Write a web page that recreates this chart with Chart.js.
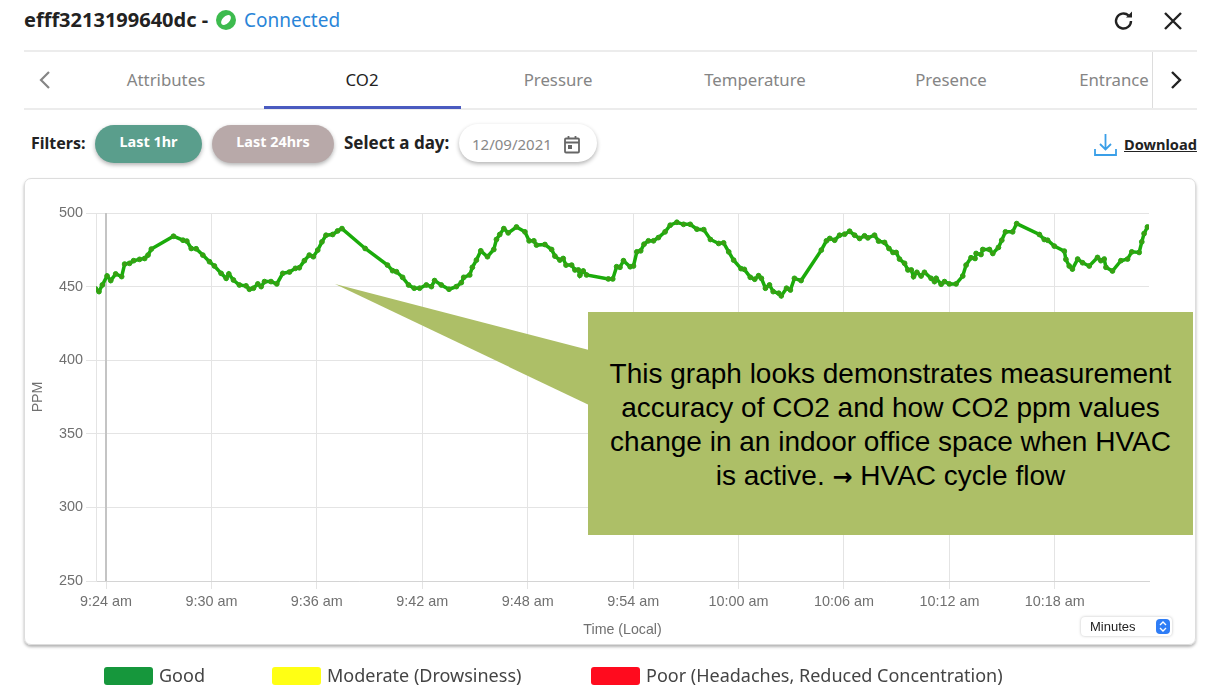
<!DOCTYPE html>
<html>
<head>
<meta charset="utf-8">
<title>CO2</title>
<script src="https://cdn.jsdelivr.net/npm/chart.js@4"></script>
<style>
    html, body { margin: 0; padding: 0; background: #fff; }
    body { position: relative; width: 1217px; height: 689px; overflow: hidden; font-family: "Noto Sans", sans-serif; color: #222; }
    .abs { position: absolute; white-space: nowrap; }
    .rule { position: absolute; left: 24px; width: 1173px; height: 2px; background: #ececec; }
    .tab { position: absolute; top: 68px; font-size: 16.8px; color: #858585; transform: translateX(-50%); white-space: nowrap; }
    .pill { position: absolute; top: 125px; height: 38px; line-height: 34px; border-radius: 19px; color: #fff; font-size: 14.4px; font-weight: 700; text-align: center; box-shadow: 0 2px 4px rgba(0,0,0,.3); }
    #card { position: absolute; left: 24px; top: 178px; width: 1172px; height: 467px; border: 1px solid #ddd; box-sizing: border-box; border-radius: 7px; box-shadow: 0 2px 3px rgba(0,0,0,.3); }
    #chartBox { position: absolute; left: 24px; top: 178px; width: 1172px; height: 467px; }
    #legend span.sw { position: absolute; top: 667px; width: 49px; height: 18px; border-radius: 3px; }
    #legend span.tx { position: absolute; top: 663px; font-size: 18px; color: #444; white-space: nowrap; }
    #note { position: absolute; left: 588px; top: 312px; width: 605px; height: 223px; background: #adbf67; font-family: "Liberation Sans", sans-serif; font-size: 28px; line-height: 34px; color: #000; text-align: center; box-sizing: border-box; padding-top: 45px; }
    #note b { font-family: "DejaVu Sans", sans-serif; font-size: 24px; font-weight: 700; }
    #minutes { position: absolute; left: 1081px; top: 617px; width: 91px; height: 19px; background: #fff; border-radius: 4px; box-shadow: 0 0 3px rgba(0,0,0,.25); font-family: "Liberation Sans", sans-serif; font-size: 13px; line-height: 19px; color: #222; padding-left: 9px; box-sizing: border-box; }
    #minutes svg { position: absolute; right: 2px; top: 2px; }
</style>
</head>
<body>
<div class="abs" style="left:24px;top:6px;font-size:20px;font-weight:700;color:#222">efff3213199640dc -</div>
<svg class="abs" style="left:215px;top:9px" width="22" height="22"><circle cx="11" cy="11" r="10" fill="#3dbb4e"/><ellipse cx="11" cy="11" rx="6" ry="3.5" transform="rotate(-45 11 11)" fill="#fff"/></svg>
<div class="abs" style="left:244px;top:7px;font-size:19px;color:#2a85d8">Connected</div>
<svg class="abs" style="left:1112px;top:9px" width="24" height="24" fill="none" stroke="#222" stroke-width="2.4"><path d="M19 12a7.5 7.5 0 1 1-2.5-5.6"/><path d="M20 2.5v6h-6" fill="#222" stroke="none"/></svg>
<svg class="abs" style="left:1161px;top:9px" width="24" height="24" stroke="#222" stroke-width="2.4"><path d="M4 4l16 16M20 4L4 20"/></svg>

<div class="rule" style="top:50px"></div>
<div class="rule" style="top:108px"></div>
<svg class="abs" style="left:36px;top:69px" width="18" height="22" fill="none" stroke="#858585" stroke-width="2.2"><path d="M13 3l-8 8 8 8"/></svg>
<div class="tab" style="left:166px">Attributes</div>
<div class="tab" style="left:362px;color:#222">CO2</div>
<div class="tab" style="left:558px">Pressure</div>
<div class="tab" style="left:755px">Temperature</div>
<div class="tab" style="left:951px">Presence</div>
<div class="tab" style="left:1114px">Entrance</div>
<div class="abs" style="left:264px;top:106px;width:197px;height:3px;background:#4a5bc0"></div>
<div class="abs" style="left:1152px;top:52px;width:1px;height:56px;background:#ddd"></div>
<svg class="abs" style="left:1167px;top:69px" width="18" height="22" fill="none" stroke="#222" stroke-width="2.4"><path d="M5 3l8 8-8 8"/></svg>

<div class="abs" style="left:31px;top:132px;font-size:16px;font-weight:700">Filters:</div>
<div class="pill" style="left:95px;width:107px;background:#5a9e8c">Last 1hr</div>
<div class="pill" style="left:212px;width:122px;background:#b8a9a9">Last 24hrs</div>
<div class="abs" style="left:344px;top:131px;font-size:17px;font-weight:700">Select a day:</div>
<div class="abs" style="left:459px;top:124px;width:138px;height:38px;border-radius:19px;box-shadow:0 2px 4px rgba(0,0,0,.3);background:#fff"></div>
<div class="abs" style="left:472px;top:134px;font-size:15px;color:#888">12/09/2021</div>
<svg class="abs" style="left:563px;top:135px" width="18" height="20" fill="none" stroke="#666" stroke-width="1.8"><rect x="2" y="3.5" width="14" height="14" rx="1"/><path d="M2 7.5h14M5.5 1v3M12.5 1v3"/><rect x="5" y="10" width="4" height="4" fill="#666" stroke="none"/></svg>
<svg class="abs" style="left:1093px;top:132px" width="25" height="25" fill="none" stroke="#3a9fe8" stroke-width="1.8"><path d="M12.5 2v15M7 12l5.5 5.5L18 12M2 17v6h21v-6"/></svg>
<div class="abs" style="left:1124px;top:134px;font-size:14.6px;font-weight:700;text-decoration:underline;color:#222">Download</div>

<div id="card"></div>
<div id="chartBox"><canvas id="co2Chart" width="1172" height="467"></canvas></div>

<svg class="abs" style="left:0;top:0;pointer-events:none" width="1217" height="689"><polygon points="335,284 589,350 589,405" fill="#adbf67"/></svg>
<div id="note">This graph looks demonstrates measurement<br>accuracy of CO2 and how CO2 ppm values<br>change in an indoor office space when HVAC<br>is active. <b>&#8594;</b> HVAC cycle flow</div>
<div id="minutes">Minutes<svg width="14" height="15"><rect width="14" height="15" rx="4" fill="#2f7df6"/><path d="M4 6l3-3 3 3M4 9l3 3 3-3" fill="none" stroke="#fff" stroke-width="1.4"/></svg></div>
<div id="legend"></div>

<script>
// minutes after 9:24 am
const minutes = [
    -0.59, -0.40, -0.21, 0.06, 0.27, 0.55, 0.89, 1.06, 1.34, 1.57, 1.91, 2.20, 2.39, 2.58, 3.84, 4.38, 4.60, 4.85, 5.13, 5.51,
    5.89, 6.17, 6.55, 6.84, 6.99, 7.25, 7.59, 7.97, 8.16, 8.39, 8.64, 8.83, 9.02, 9.39, 9.72, 10.06, 10.44, 10.78, 11.00, 11.29,
    11.57, 11.80, 12.05, 12.29, 12.52, 12.90, 13.18, 13.43, 14.75, 16.02, 16.31, 16.53, 16.88, 17.22, 17.54, 17.85, 18.23, 18.52, 18.70, 19.08,
    19.52, 19.94, 20.22, 20.36, 20.70, 20.85, 21.08, 21.33, 21.71, 22.07, 22.22, 22.41, 22.64, 22.89, 23.36, 23.84, 24.08, 24.35, 24.50, 24.98,
    25.36, 25.55, 25.83, 26.02, 26.18, 26.50, 26.69, 26.88, 26.97, 27.16, 27.35, 28.59, 28.84, 29.06, 29.25, 29.45, 29.83, 30.02, 30.21, 30.43,
    30.62, 30.87, 31.16, 31.44, 31.82, 32.11, 32.49, 32.87, 33.25, 33.63, 34.02, 34.40, 34.87, 35.15, 35.44, 35.72, 36.14, 36.33, 36.67, 36.92,
    37.14, 37.30, 37.53, 37.76, 37.97, 38.29, 38.43, 38.73, 38.95, 39.18, 39.56, 40.71, 41.00, 41.19, 41.47, 41.75, 42.04, 42.32, 42.61, 42.89,
    43.17, 43.36, 43.74, 43.97, 44.31, 44.56, 44.79, 44.97, 45.16, 45.45, 45.64, 45.83, 45.96, 46.15, 46.39, 46.58, 46.96, 47.15, 47.25, 47.53,
    47.72, 48.00, 48.38, 48.76, 48.95, 49.23, 49.46, 49.52, 49.80, 49.90, 50.28, 50.47, 50.79, 50.98, 51.19, 51.60, 51.83, 53.12, 53.40, 53.59,
    53.97, 54.54, 54.63, 54.82, 55.00, 55.30, 55.58, 55.96, 56.43, 56.62, 56.81, 56.91, 57.28, 57.76, 58.14, 58.38, 58.80, 58.95, 59.08, 59.27
];
const ppm = [
    448.4, 446.6, 451.1, 457.2, 454.1, 458.6, 456.8, 465.3, 465.8, 467.6, 468.5, 469.1, 471.4, 475.5, 484.2, 481.5, 480.9, 475.9, 475.7, 471.4,
    466.9, 464.0, 459.0, 455.6, 458.6, 454.5, 451.1, 450.5, 448.2, 448.9, 451.8, 450.0, 453.4, 453.4, 451.8, 459.0, 459.9, 462.4, 462.8, 467.6,
    471.4, 470.3, 474.8, 480.4, 484.9, 485.4, 487.8, 489.4, 475.9, 464.6, 460.8, 460.1, 456.3, 451.1, 448.9, 448.9, 451.1, 450.0, 454.1, 451.1,
    448.2, 450.0, 452.7, 456.3, 457.9, 463.1, 468.0, 474.3, 470.3, 475.2, 482.0, 485.4, 489.4, 486.5, 490.5, 487.2, 481.1, 481.1, 478.2, 478.6,
    475.2, 470.7, 468.0, 469.1, 464.6, 464.6, 461.3, 461.3, 457.7, 460.6, 457.9, 455.2, 455.2, 463.5, 463.1, 467.6, 463.5, 464.0, 473.6, 474.3,
    478.8, 481.1, 481.1, 483.3, 487.2, 491.7, 493.7, 492.3, 492.3, 489.0, 488.7, 482.0, 479.3, 479.7, 473.6, 468.0, 462.2, 461.7, 456.3, 455.0,
    457.4, 455.6, 448.9, 451.1, 446.6, 445.5, 443.7, 448.9, 447.7, 455.6, 454.1, 474.8, 481.1, 482.7, 481.5, 484.9, 485.6, 487.6, 484.9, 482.7,
    484.5, 483.1, 484.9, 480.9, 480.0, 475.9, 473.2, 473.2, 468.7, 465.8, 461.3, 461.3, 456.8, 459.7, 457.2, 459.7, 455.6, 453.4, 455.6, 451.6,
    453.4, 451.8, 451.8, 457.2, 464.6, 469.6, 469.1, 472.5, 471.8, 475.2, 475.2, 472.5, 476.6, 481.5, 487.2, 487.2, 492.8, 485.4, 482.0, 481.5,
    477.5, 474.1, 468.5, 464.0, 461.9, 468.7, 466.2, 464.0, 469.8, 467.6, 468.7, 463.1, 460.6, 467.6, 468.7, 473.6, 473.2, 480.4, 486.0, 490.5
];
const tickMinutes = [0, 6, 12, 18, 24, 30, 36, 42, 48, 54];
const tickLabels = ["9:24 am", "9:30 am", "9:36 am", "9:42 am", "9:48 am", "9:54 am", "10:00 am", "10:06 am", "10:12 am", "10:18 am"];
const ppmTicks = [250, 300, 350, 400, 450, 500];
const legendNames = ["Good", "Moderate (Drowsiness)", "Poor (Headaches, Reduced Concentration)"];
const legendColors = ["#16973c", "#ffff14", "#ff0b1e"];
const legendLeft = [104, 272, 591];

document.addEventListener("DOMContentLoaded", function () {
    // legend sits below the card like in the app
    let legendHtml = "";
    legendNames.forEach((name, i) => {
        legendHtml += `<span class="sw" style="left:${legendLeft[i]}px;background:${legendColors[i]}"></span>
            <span class="tx" style="left:${legendLeft[i] + 55}px">${name}</span>`;
    });
    document.getElementById("legend").innerHTML = legendHtml;

    const grey = "#707070";
    const tickFont = { family: "Liberation Sans", size: 14.4 };
    const titleFont = { family: "Liberation Sans", size: 14.2 };

    const ctx = document.getElementById("co2Chart").getContext("2d");
    new Chart(ctx, {
        type: "line",
        data: {
            datasets: [
                {
                    label: "CO2",
                    data: minutes.map((m, i) => ({ x: m, y: ppm[i] })),
                    borderColor: "#1aab0a",
                    borderWidth: 3.5,
                    tension: 0,
                    pointRadius: 2.4,
                    pointBackgroundColor: "#3f9a14",
                    pointBorderColor: "#22ae12",
                    pointBorderWidth: 1
                },
                {
                    // darker vertical marker at the first tick
                    label: "start",
                    data: [{ x: 0, y: 250 }, { x: 0, y: 500 }],
                    borderColor: "#c4c4c4",
                    borderWidth: 2,
                    pointRadius: 0
                }
            ]
        },
        options: {
            responsive: false,
            animation: false,
            layout: { padding: { top: 35, right: 47 } },
            plugins: { legend: { display: false }, tooltip: { enabled: false } },
            scales: {
                x: {
                    type: "linear",
                    min: -0.57,
                    max: 59.36,
                    afterBuildTicks: scale => { scale.ticks = tickMinutes.map(v => ({ value: v })); },
                    afterFit: scale => { scale.height = 64; },
                    ticks: {
                        color: grey,
                        font: tickFont,
                        maxRotation: 0,
                        autoSkip: false,
                        padding: 4,
                        callback: value => tickLabels[tickMinutes.indexOf(value)]
                    },
                    grid: { color: "#e4e4e4", tickLength: 8 },
                    border: { color: "#d4d4d4" },
                    title: { display: true, text: "Time (Local)", color: grey, font: titleFont, padding: { top: 6, bottom: 6 } }
                },
                y: {
                    min: 250,
                    max: 500,
                    afterBuildTicks: scale => { scale.ticks = ppmTicks.map(v => ({ value: v })); },
                    afterFit: scale => { scale.width = 72; },
                    ticks: { color: grey, font: tickFont, padding: 3 },
                    grid: { color: "#e4e4e4", tickLength: 10 },
                    border: { color: "#e4e4e4" },
                    title: { display: true, text: "PPM", color: grey, font: titleFont, padding: { top: 6, bottom: 0 } }
                }
            }
        }
    });
});
</script>
</body>
</html>
